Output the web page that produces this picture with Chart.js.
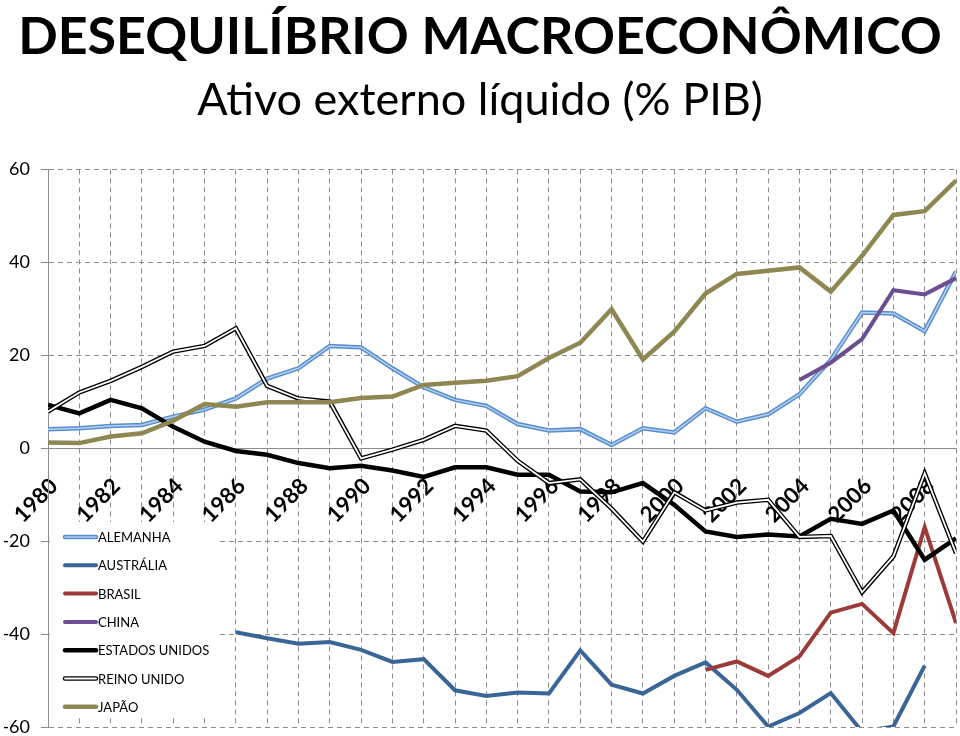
<!DOCTYPE html>
<html>
<head>
<meta charset="utf-8">
<script src="https://cdn.jsdelivr.net/npm/chart.js@4.4.0/dist/chart.umd.min.js"></script>
<style>
  html, body { margin: 0; padding: 0; background: #fff; }
  #wrap { width: 960px; height: 736px; }
</style>
</head>
<body>
<div id="wrap"><canvas id="ativo"></canvas></div>
<script>
// anos (categorias)
const anos = ["1980","1981","1982","1983","1984","1985","1986","1987","1988","1989",
  "1990","1991","1992","1993","1994","1995","1996","1997","1998","1999",
  "2000","2001","2002","2003","2004","2005","2006","2007","2008","2009"];

// ativo externo liquido, % do PIB
const alemanha = [4.1, 4.3, 4.8, 5.0, 6.8, 8.3, 10.7, 15.0, 17.2, 22.0,
  21.7, 17.2, 13.1, 10.4, 9.1, 5.2, 3.8, 4.1, 0.7, 4.3,
  3.4, 8.6, 5.7, 7.3, 11.6, 19.0, 29.2, 29.0, 25.2, 38.0];
const australia = [null, null, null, null, null, null, -39.6, -40.9, -42.1, -41.7,
  -43.4, -46.0, -45.4, -52.1, -53.3, -52.6, -52.8, -43.5, -50.9, -52.8,
  -49.0, -46.1, -52.0, -59.9, -57.0, -52.7, -61.0, -59.9, -46.8, null];
const brasil = [null, null, null, null, null, null, null, null, null, null,
  null, null, null, null, null, null, null, null, null, null,
  null, -47.7, -45.9, -49.0, -44.8, -35.4, -33.5, -39.8, -17.0, -37.6];
const china = [null, null, null, null, null, null, null, null, null, null,
  null, null, null, null, null, null, null, null, null, null,
  null, null, null, null, 14.7, 18.4, 23.5, 34.0, 33.1, 36.6];
const estadosUnidos = [9.3, 7.5, 10.4, 8.6, 4.6, 1.4, -0.6, -1.4, -3.2, -4.3,
  -3.8, -4.8, -6.2, -4.1, -4.1, -5.7, -5.7, -9.3, -9.5, -7.5,
  -12.2, -17.9, -19.1, -18.6, -19.0, -15.2, -16.3, -13.4, -24.0, -19.4];
const reinoUnido = [7.9, 12.0, 14.5, 17.5, 20.8, 22.0, 25.8, 13.4, 10.7, 10.0,
  -2.2, -0.3, 1.8, 4.8, 3.8, -2.7, -7.5, -6.7, -13.0, -20.1,
  -9.5, -13.4, -11.7, -11.1, -19.1, -18.9, -31.0, -23.3, -5.4, -22.6];
const japao = [1.2, 1.1, 2.5, 3.2, 5.9, 9.5, 8.9, 9.9, 9.9, 9.9,
  10.8, 11.1, 13.6, 14.1, 14.5, 15.5, 19.4, 22.7, 29.9, 19.1,
  25.1, 33.3, 37.5, 38.2, 38.9, 33.7, 41.4, 50.2, 51.0, 57.6];

const cinza = "#8c8c8c";

function serie(label, data, cor, largura, ordem, extra) {
  return Object.assign({
    label: label,
    data: data,
    borderColor: cor,
    borderWidth: largura,
    pointRadius: 0,
    pointHoverRadius: 0,
    tension: 0,
    fill: false,
    clip: 0,
    order: ordem,
  }, extra || {});
}

// linhas duplas (estilo Excel) = linha larga + linha fina por cima
const datasets = [
  serie("ALEMANHA", alemanha, "#5a8fce", 4.5, 20),
  serie("ALEMANHA", alemanha, "#b4cff0", 1.5, 19, { interno: true }),
  serie("AUSTRÁLIA", australia, "#3a6597", 4, 18),
  serie("BRASIL", brasil, "#9b3a37", 4, 16),
  serie("CHINA", china, "#6c4f91", 4, 14),
  serie("ESTADOS UNIDOS", estadosUnidos, "#000000", 4.5, 12),
  serie("REINO UNIDO", reinoUnido, "#000000", 4.5, 10),
  serie("REINO UNIDO", reinoUnido, "#ffffff", 1.8, 9, { interno: true }),
  serie("JAPÃO", japao, "#8e8752", 4.5, 8),
];

const legendaInterna = {
  id: "legendaInterna",
  afterDraw(chart) {
    const { ctx, chartArea } = chart;
    const ds = chart.data.datasets;
    const x0 = chartArea.left + 2;
    const y0 = chartArea.bottom - 205;
    ctx.save();
    ctx.fillStyle = "#ffffff";
    ctx.fillRect(x0, y0, 170, 196);
    ctx.font = "13px Lato";
    ctx.textBaseline = "middle";
    ctx.fillStyle = "#000";
    ds.filter(d => !d.interno).forEach((d, i) => {
      const y = y0 + 15 + i * 28.3;
      ctx.lineCap = "round";
      ctx.strokeStyle = d.borderColor;
      ctx.lineWidth = d.borderWidth;
      ctx.beginPath(); ctx.moveTo(x0 + 15, y); ctx.lineTo(x0 + 46, y); ctx.stroke();
      const dentro = ds.find(o => o.interno && o.label === d.label);
      if (dentro) {
        ctx.strokeStyle = dentro.borderColor;
        ctx.lineWidth = dentro.borderWidth;
        ctx.beginPath(); ctx.moveTo(x0 + 15, y); ctx.lineTo(x0 + 46, y); ctx.stroke();
      }
      ctx.fillText(d.label, x0 + 48, y + 1);
    });
    ctx.restore();
  }
};

new Chart(document.getElementById("ativo"), {
  type: "line",
  data: { labels: anos, datasets: datasets },
  plugins: [legendaInterna],
  options: {
    responsive: true,
    maintainAspectRatio: false,
    animation: false,
    layout: { padding: { left: 4, right: 4, bottom: 9, top: 0 } },
    plugins: {
      legend: { display: false },
      tooltip: { enabled: false },
      title: {
        display: true,
        text: "DESEQUILÍBRIO MACROECONÔMICO",
        color: "#000",
        font: { family: "Lato", weight: "bold", size: 52 },
        padding: { top: 6, bottom: 0 },
      },
      subtitle: {
        display: true,
        text: "Ativo externo líquido (% PIB)",
        color: "#000",
        font: { family: "Lato", size: 45 },
        padding: { top: 5, bottom: 42 },
      },
    },
    scales: {
      x: {
        type: "category",
        position: { y: 0 },
        offset: false,
        grid: { color: cinza, drawTicks: false },
        border: { color: cinza, dash: [5, 4] },
        ticks: {
          autoSkip: false,
          maxRotation: 45,
          minRotation: 45,
          color: "#000",
          font: { family: "Lato", weight: "bold", size: 22 },
          padding: 25,
          labelOffset: 6,
          callback: function (v, i) { return i % 2 === 0 ? this.getLabelForValue(v) : ""; },
        },
        afterFit: (s) => { s.paddingLeft = 0; s.paddingRight = 0; },
      },
      y: {
        min: -60,
        max: 60,
        grid: { color: cinza, tickLength: 7, tickColor: cinza },
        border: { color: cinza, dash: [5, 4] },
        ticks: {
          stepSize: 20,
          color: "#000",
          font: { family: "Lato", size: 18, lineHeight: 1 },
          padding: 11,
        },
        afterFit: (s) => { s.width = 44; s.paddingTop = 0; s.paddingBottom = 0; },
      },
    },
  },
});
</script>
</body>
</html>
